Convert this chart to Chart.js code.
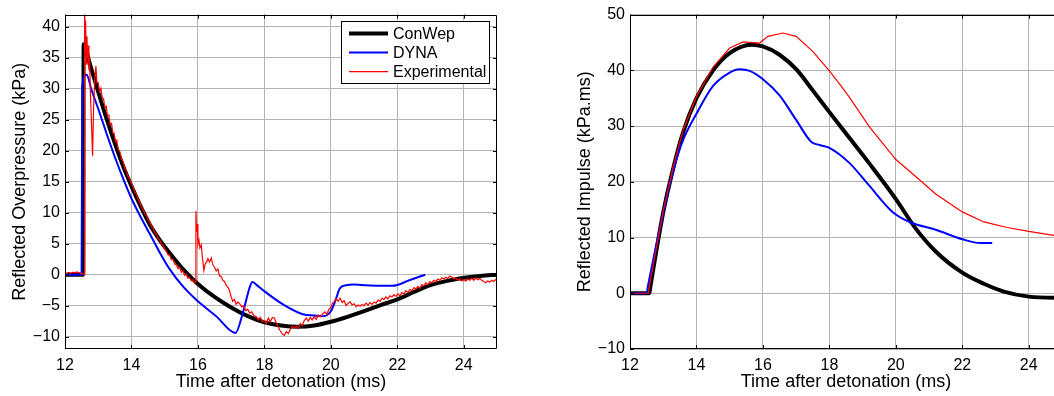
<!DOCTYPE html>
<html>
<head>
<meta charset="utf-8">
<script src="https://cdn.jsdelivr.net/npm/chart.js@4/dist/chart.umd.min.js"></script>
<style>
  html, body { margin: 0; padding: 0; background: #fff; overflow: hidden; }
  .panel { position: absolute; top: 0; height: 396px; }
</style>
</head>
<body>
<div class="panel" style="left:0;width:510px"><canvas id="pressure"></canvas></div>
<div class="panel" style="left:560px;width:502px"><canvas id="impulse"></canvas></div>
<script>
// Series names (legend order)
const seriesNames = ['ConWep', 'DYNA', 'Experimental'];

// Tick labels
const timeTicks = [12, 14, 16, 18, 20, 22, 24];
const pressureTicks = [-10, -5, 0, 5, 10, 15, 20, 25, 30, 35, 40];
const impulseTicks = [-10, 0, 10, 20, 30, 40, 50];

// Reflected overpressure (kPa) vs time (ms) - [t, p]
const conwepP = [[12,0],[12.55,0],[12.56,37.2],[12.75,34.0],[13.0,29.5],[13.25,25.2],[13.5,21.2],[13.75,17.5],
  [14.0,14.3],[14.27,11.1],[14.55,8.1],[14.8,6.0],[15.0,4.5],[15.25,2.8],[15.5,1.2],[15.75,-0.2],[16.0,-1.5],
  [16.5,-3.6],[17.0,-5.3],[17.5,-6.7],[18.0,-7.7],[18.5,-8.2],[19.0,-8.4],[19.5,-8.2],[20.0,-7.6],[20.5,-6.8],
  [21.0,-5.9],[21.5,-4.9],[22.0,-4.0],[22.5,-2.8],[23.0,-1.7],[23.5,-1.0],[24.0,-0.5],[24.5,-0.2],[25.0,0.0]];

const dynaP = [[12,0],[12.5,0],[12.52,30.5],[12.65,32.3],[12.8,29.8],[13.0,26.8],[13.25,22.8],[13.5,19.0],
  [13.75,15.5],[14.0,12.3],[14.25,9.6],[14.55,6.6],[14.85,3.6],[15.15,0.9],[15.55,-1.9],[16.0,-4.3],
  [16.55,-6.7],[17.13,-9.4],[17.35,-6.2],[17.56,-2.0],[17.64,-1.2],[17.8,-1.8],[17.96,-2.5],[18.56,-4.8],
  [19.16,-6.4],[19.5,-6.6],[19.76,-6.7],[20.0,-5.9],[20.15,-4.0],[20.27,-2.2],[20.46,-1.7],[20.7,-1.6],
  [21.06,-1.7],[21.5,-1.8],[21.86,-1.8],[22.36,-0.9],[22.84,0.0]];

const expP = [[12.00,0.3],[12.05,0.2],[12.10,0.35],[12.15,0.25],[12.20,0.3],[12.25,0.4],[12.30,0.3],[12.35,0.45],
  [12.40,0.35],[12.45,0.3],[12.50,0.2],[12.55,0.1],[12.58,0.0],[12.59,44],[12.61,36],[12.62,41],[12.64,34],
  [12.66,38.5],[12.68,35],[12.70,37],[12.72,33],[12.74,35],[12.76,30],[12.80,24],[12.83,19.2],[12.86,27],
  [12.90,32],[12.93,33.7],[12.96,31],[13.00,31.0],[13.04,29.6],[13.08,30.1],[13.12,28.6],[13.16,28.4],
  [13.20,27.0],[13.24,27.2],[13.28,25.6],[13.32,25.8],[13.36,24.2],[13.40,24.4],[13.44,22.9],[13.48,22.8],
  [13.52,21.5],[13.56,21.7],[13.60,20.2],[13.65,19.9],[13.70,18.7],[13.75,18.2],[13.80,17.2],[13.85,16.8],
  [13.90,15.8],[13.95,15.5],[14.00,14.6],[14.05,14.2],[14.10,13.3],[14.15,13.0],[14.20,12.1],[14.25,11.8],
  [14.30,10.9],[14.35,10.6],[14.40,9.8],[14.45,9.6],[14.50,8.8],[14.55,8.6],[14.60,7.8],[14.65,7.6],
  [14.70,6.8],[14.75,6.6],[14.80,5.8],[14.85,5.6],[14.90,4.9],[14.95,4.8],[15.00,4.1],[15.05,3.9],
  [15.10,3.2],[15.15,3.2],[15.20,2.4],[15.25,2.5],[15.30,1.7],[15.35,1.6],[15.40,1.0],[15.45,1.2],
  [15.50,0.4],[15.55,0.6],[15.60,-0.1],[15.65,0.1],[15.70,-0.6],[15.75,-0.4],[15.80,-1.0],[15.85,-0.8],
  [15.90,-1.4],[15.93,-1.2],[15.94,10.3],[15.96,7.0],[15.98,8.2],[16.00,4.9],[16.03,5.6],[16.06,4.3],
  [16.10,4.8],[16.14,2.5],[16.18,0.7],[16.22,1.8],[16.26,2.0],[16.30,2.6],[16.35,2.0],[16.40,2.7],
  [16.45,1.6],[16.50,1.2],[16.55,0.6],[16.60,0.9],[16.65,-0.2],[16.70,-0.3],[16.75,-0.9],[16.80,-1.1],
  [16.85,-1.7],[16.90,-2.0],[16.95,-2.6],[17.00,-3.6],[17.05,-4.3],[17.10,-4.0],[17.15,-4.8],[17.20,-4.4],
  [17.26,-4.7],[17.32,-5.2],[17.38,-5.0],[17.44,-5.8],[17.50,-5.6],[17.56,-6.2],[17.62,-6.0],[17.68,-6.6],
  [17.76,-6.8],[17.82,-7.3],[17.88,-6.9],[17.94,-7.6],[18.00,-7.4],[18.06,-7.9],[18.12,-7.0],[18.18,-7.6],
  [18.24,-6.9],[18.30,-7.0],[18.36,-7.8],[18.42,-8.5],[18.48,-9.1],[18.54,-9.6],[18.60,-9.8],[18.66,-9.2],
  [18.72,-9.5],[18.78,-8.8],[18.84,-8.3],[18.90,-8.6],[18.96,-8.3],[19.02,-8.7],[19.08,-7.9],[19.14,-8.2],
  [19.20,-7.4],[19.26,-7.0],[19.32,-7.5],[19.38,-6.9],[19.44,-7.3],[19.50,-6.8],[19.56,-7.2],[19.62,-6.5],
  [19.68,-6.8],[19.76,-6.3],[19.82,-6.0],[19.88,-6.4],[19.94,-5.6],[20.00,-5.3],[20.05,-4.6],[20.10,-4.4],
  [20.16,-3.9],[20.22,-4.3],[20.28,-3.8],[20.34,-4.5],[20.40,-4.2],[20.46,-5.0],[20.52,-4.6],[20.58,-4.4],
  [20.64,-4.9],[20.70,-4.7],[20.76,-5.2],[20.82,-4.9],[20.88,-5.1],[20.94,-4.8],[21.00,-5.0],[21.06,-4.6],
  [21.12,-4.9],[21.18,-4.5],[21.24,-4.8],[21.30,-4.4],[21.36,-4.6],[21.42,-4.1],[21.48,-4.3],[21.54,-3.8],
  [21.60,-4.0],[21.66,-3.6],[21.72,-3.9],[21.78,-3.4],[21.84,-3.6],[21.90,-3.2],[21.96,-3.5],[22.02,-3.1],
  [22.08,-3.4],[22.14,-2.9],[22.20,-3.1],[22.26,-2.6],[22.32,-2.9],[22.38,-2.4],[22.44,-2.6],[22.50,-2.1],
  [22.56,-2.3],[22.62,-1.9],[22.68,-2.2],[22.74,-1.6],[22.80,-1.8],[22.86,-1.3],[22.92,-1.6],[22.98,-1.1],
  [23.04,-1.3],[23.10,-0.9],[23.16,-1.1],[23.22,-0.7],[23.28,-0.9],[23.34,-0.5],[23.40,-0.7],[23.46,-0.4],
  [23.52,-0.6],[23.58,-0.2],[23.64,-0.4],[23.70,-0.7],[23.76,-0.5],[23.82,-0.9],[23.88,-0.7],[23.94,-1.0],
  [24.00,-0.8],[24.06,-1.0],[24.12,-0.7],[24.18,-0.9],[24.24,-0.6],[24.30,-0.9],[24.36,-0.5],[24.42,-0.8],
  [24.48,-0.6],[24.54,-0.9],[24.60,-1.1],[24.66,-1.3],[24.72,-1.0],[24.78,-1.2],[24.84,-0.9],[24.90,-1.1],
  [24.96,-0.8],[25.00,-1.0]];

// Reflected impulse (kPa.ms) vs time (ms) - [t, i]
const conwepI = [[12,0],[12.58,0],[12.62,1.45],[13.0,14.5],[13.3,22.4],[13.6,28.9],[14.0,35.0],[14.5,40.0],
  [15.0,43.1],[15.66,44.6],[16.0,44.3],[16.5,42.8],[17.0,40.2],[17.5,36.4],[18.0,32.5],[18.6,27.9],
  [19.2,23.3],[20.0,16.9],[20.6,11.6],[21.2,7.5],[22.0,3.7],[22.65,1.7],[23.25,0.3],[24.0,-0.6],
  [24.75,-0.8],[25.0,-0.8]];

const dynaI = [[12,0],[12.5,0],[12.54,1.3],[13.0,14.4],[13.3,22.0],[13.6,27.5],[14.0,32.2],[14.5,37.2],
  [15.0,39.6],[15.3,40.2],[15.6,39.9],[16.0,38.4],[16.5,35.5],[17.0,31.1],[17.45,27.2],[17.7,26.6],
  [18.0,26.1],[18.6,23.4],[19.2,19.3],[19.9,14.6],[20.45,12.7],[21.2,11.4],[22.0,9.7],[22.55,9.0],[22.9,9.0]];

const expI = [[12,0],[12.55,0],[12.59,1.45],[13.0,14.8],[13.3,22.7],[13.6,29.3],[14.0,35.3],[14.5,40.6],
  [15.0,44.0],[15.4,45.1],[15.9,44.9],[16.15,46.1],[16.6,46.7],[17.0,46.1],[17.5,43.4],[18.0,39.9],
  [18.35,37.2],[18.6,35.2],[19.2,29.9],[20.0,24.0],[20.45,21.7],[21.2,17.8],[22.0,14.6],[22.65,12.8],
  [23.35,11.8],[24.0,11.1],[24.75,10.4],[25.0,10.2]];

Chart.defaults.font.family = "'Liberation Sans', Arial, sans-serif";
Chart.defaults.color = '#000';

const toXY = pts => pts.map(([x, y]) => ({x, y}));
const minusFmt = v => (v < 0 ? '\u2212' + Math.abs(v) : String(v));

// MATLAB-like box with inward ticks, plus optional inset legend
const boxPlugin = {
  id: 'box',
  afterDatasetsDraw(chart, args, opts) {
    const {ctx, chartArea: a, scales} = chart;
    ctx.save();
    ctx.strokeStyle = '#000';
    ctx.lineWidth = 1;
    ctx.beginPath();
    ctx.rect(Math.round(a.left) + 0.5, Math.round(a.top) + 0.5,
             Math.round(a.right - a.left) - 1, Math.round(a.bottom - a.top) - 1);
    ctx.stroke();
    const len = 4;
    ctx.beginPath();
    scales.x.ticks.forEach(t => {
      const px = Math.round(scales.x.getPixelForValue(t.value)) + 0.5;
      ctx.moveTo(px, a.bottom); ctx.lineTo(px, a.bottom - len);
      ctx.moveTo(px, a.top); ctx.lineTo(px, a.top + len);
    });
    scales.y.ticks.forEach(t => {
      const py = Math.round(scales.y.getPixelForValue(t.value)) + 0.5;
      ctx.moveTo(a.left, py); ctx.lineTo(a.left + len, py);
      ctx.moveTo(a.right, py); ctx.lineTo(a.right - len, py);
    });
    ctx.stroke();

    if (opts.legend) {
      const w = 148, h = 62;
      const x0 = a.right - 8 - w, y0 = a.top + 6;
      ctx.fillStyle = '#fff';
      ctx.fillRect(x0, y0, w, h);
      ctx.strokeRect(Math.round(x0) + 0.5, Math.round(y0) + 0.5, w, h);
      ctx.font = "16px 'Liberation Sans', Arial, sans-serif";
      ctx.textBaseline = 'middle';
      chart.data.datasets.forEach((ds, i) => {
        const y = y0 + 13 + i * 19;
        ctx.strokeStyle = ds.borderColor;
        ctx.lineWidth = ds.borderWidth;
        ctx.beginPath();
        ctx.moveTo(x0 + 8, y); ctx.lineTo(x0 + 47, y);
        ctx.stroke();
        ctx.fillStyle = '#000';
        ctx.fillText(ds.label, x0 + 52, y + 1);
      });
    }
    ctx.restore();
  }
};

function makeDatasets(conwep, dyna, exp) {
  return [
    {label: seriesNames[0], data: toXY(conwep), borderColor: '#000000', borderWidth: 4,
     cubicInterpolationMode: 'monotone', order: 3},
    {label: seriesNames[1], data: toXY(dyna), borderColor: '#0000ff', borderWidth: 2,
     cubicInterpolationMode: 'monotone', order: 2},
    {label: seriesNames[2], data: toXY(exp), borderColor: '#ff0000', borderWidth: 1.2,
     tension: 0, order: 1}
  ];
}

function makeOptions(cfg) {
  return {
    responsive: true,
    maintainAspectRatio: false,
    animation: false,
    layout: {padding: {top: 10, right: cfg.padRight, left: 0, bottom: 0}},
    datasets: {line: {pointRadius: 0, clip: 0, fill: false}},
    plugins: {
      legend: {display: false},
      tooltip: {enabled: false},
      box: {legend: cfg.legend}
    },
    scales: {
      x: {
        type: 'linear',
        min: 12, max: 25,
        afterBuildTicks: s => { s.ticks = timeTicks.map(v => ({value: v})); },
        afterFit: s => { s.height = 47; },
        grid: {color: '#b4b4b4', lineWidth: 1, drawTicks: false},
        border: {display: false},
        ticks: {font: {size: 16}, padding: 7, maxRotation: 0, callback: minusFmt},
        title: {display: true, text: 'Time after detonation (ms)', font: {size: 18},
                padding: {top: 0, bottom: 3}}
      },
      y: {
        type: 'linear',
        min: cfg.yMin, max: cfg.yMax,
        afterBuildTicks: s => { s.ticks = cfg.yTicks.map(v => ({value: v})); },
        afterFit: s => { s.width = cfg.yWidth; },
        grid: {color: '#b4b4b4', lineWidth: 1, drawTicks: false},
        border: {display: false},
        ticks: {font: {size: 16}, padding: 5, callback: minusFmt},
        title: {display: true, text: cfg.yTitle, font: {size: 18},
                padding: {top: cfg.titlePad, bottom: 0}}
      }
    }
  };
}

new Chart(document.getElementById('pressure'), {
  type: 'line',
  data: {datasets: makeDatasets(conwepP, dynaP, expP)},
  options: makeOptions({yMin: -12, yMax: 42, yTicks: pressureTicks, yWidth: 65, padRight: 13,
    yTitle: 'Reflected Overpressure (kPa)', titlePad: 9, legend: true}),
  plugins: [boxPlugin]
});

new Chart(document.getElementById('impulse'), {
  type: 'line',
  data: {datasets: makeDatasets(conwepI, dynaI, expI)},
  options: makeOptions({yMin: -10, yMax: 50, yTicks: impulseTicks, yWidth: 70, padRight: 0,
    yTitle: 'Reflected Impulse (kPa.ms)', titlePad: 14, legend: false}),
  plugins: [boxPlugin]
});
</script>
</body>
</html>
